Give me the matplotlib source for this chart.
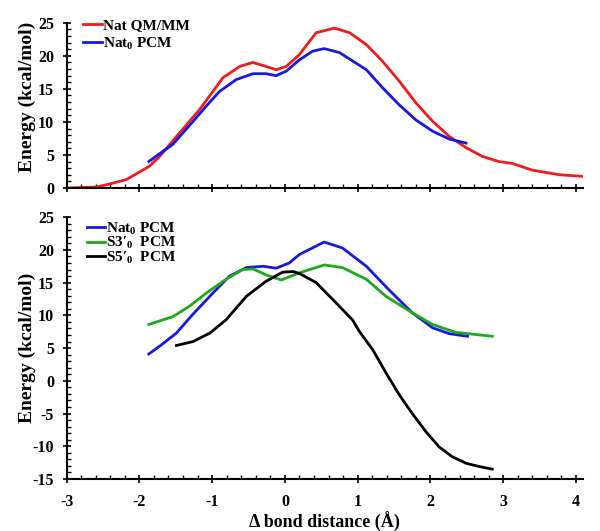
import matplotlib
matplotlib.use("Agg")
import matplotlib.pyplot as plt
from matplotlib.ticker import MultipleLocator

plt.rcParams['font.family'] = ['Liberation Serif', 'DejaVu Serif']
plt.rcParams['font.weight'] = 'bold'
plt.rcParams['axes.unicode_minus'] = False
plt.rcParams['mathtext.fontset'] = 'custom'
plt.rcParams['mathtext.rm'] = 'Liberation Serif:bold'
plt.rcParams['mathtext.it'] = 'Liberation Serif:bold'
plt.rcParams['mathtext.bf'] = 'Liberation Serif:bold'

# ---- data: top panel ----
nat_qmmm_x = [-3.0, -2.59, -2.41, -2.18, -1.86, -1.72, -1.45, -1.17, -0.85, -0.62, -0.44,
              -0.26, -0.12, 0.02, 0.2, 0.43, 0.68, 0.89, 1.12, 1.34, 1.57, 1.8, 2.03,
              2.26, 2.49, 2.71, 2.94, 3.13, 3.4, 3.77, 4.09]
nat_qmmm_y = [0.0, 0.15, 0.6, 1.26, 3.3, 4.8, 8.3, 11.9, 16.7, 18.4, 19.0,
              18.4, 17.9, 18.4, 20.2, 23.5, 24.2, 23.5, 21.7, 19.2, 16.2, 12.9, 10.1,
              7.8, 6.1, 4.8, 4.0, 3.7, 2.7, 2.0, 1.76]

nat0_pcm_x = [-1.87, -1.72, -1.54, -1.26, -1.08, -0.9, -0.67, -0.44, -0.26, -0.12, 0.02,
              0.2, 0.38, 0.54, 0.75, 1.12, 1.34, 1.57, 1.8, 2.03, 2.26, 2.49]
nat0_pcm_y = [4.0, 5.2, 6.6, 10.1, 12.4, 14.6, 16.4, 17.3, 17.3, 17.0, 17.7,
              19.4, 20.7, 21.1, 20.5, 17.9, 15.2, 12.6, 10.3, 8.6, 7.4, 6.8]

# ---- data: bottom panel ----
nat0_b_x = [-1.87, -1.72, -1.49, -1.27, -0.99, -0.76, -0.53, -0.3, -0.12, 0.06, 0.2,
            0.54, 0.79, 1.12, 1.43, 1.75, 2.03, 2.26, 2.51]
nat0_b_y = [4.1, 5.3, 7.3, 10.1, 13.4, 16.0, 17.3, 17.5, 17.2, 18.0, 19.3,
            21.2, 20.3, 17.5, 13.9, 10.4, 8.1, 7.2, 6.8]

s3_x = [-1.87, -1.54, -1.31, -1.08, -0.81, -0.58, -0.44, -0.26, -0.05, 0.11, 0.2,
        0.54, 0.79, 1.12, 1.39, 1.75, 2.03, 2.35, 2.85]
s3_y = [8.6, 9.8, 11.4, 13.4, 15.5, 17.0, 17.1, 16.2, 15.4, 16.1, 16.5,
        17.7, 17.3, 15.5, 12.9, 10.4, 8.6, 7.4, 6.8]

s5_x = [-1.49, -1.26, -1.03, -0.81, -0.53, -0.26, -0.03, 0.11, 0.2, 0.43, 0.66,
        0.93, 1.02, 1.21, 1.39, 1.57, 1.75, 1.94, 2.12, 2.3, 2.49, 2.67, 2.85]
s5_y = [5.4, 6.0, 7.3, 9.3, 12.9, 15.2, 16.6, 16.7, 16.4, 15.0, 12.4,
        9.3, 7.6, 4.7, 1.2, -2.1, -5.0, -7.8, -10.1, -11.6, -12.6, -13.1, -13.5]

RED = '#ee1c1c'
BLUE = '#1818e0'
GREEN = '#1ea81e'
BLACK = '#000000'

fig = plt.figure(figsize=(6.0, 5.31), dpi=100)
ax1 = fig.add_axes([0.111, 0.646, 0.861, 0.311])
ax2 = fig.add_axes([0.111, 0.098, 0.861, 0.493])

lw = 2.0
ax1.plot(nat_qmmm_x, nat_qmmm_y, color=RED, lw=lw, label='Nat QM/MM')
ax1.plot(nat0_pcm_x, nat0_pcm_y, color=BLUE, lw=lw, label=r'Nat$_0$ PCM')

ax2.plot(nat0_b_x, nat0_b_y, color=BLUE, lw=lw, label=r'Nat$_0$ PCM')
ax2.plot(s3_x, s3_y, color=GREEN, lw=lw, label="S3\u2032$_0$  PCM")
ax2.plot(s5_x, s5_y, color=BLACK, lw=lw, label="S5\u2032$_0$  PCM")

for ax in (ax1, ax2):
    ax.set_xlim(-3, 4.1)
    ax.xaxis.set_major_locator(MultipleLocator(1))
    ax.xaxis.set_minor_locator(MultipleLocator(0.2))
    ax.yaxis.set_major_locator(MultipleLocator(5))
    ax.yaxis.set_minor_locator(MultipleLocator(1))
    for s in ('top', 'right'):
        ax.spines[s].set_visible(False)
    for s in ('left', 'bottom'):
        ax.spines[s].set_linewidth(1.5)
    ax.tick_params(which='major', direction='inout', length=6, width=1.2,
                   labelsize=11.5, pad=6)
    ax.tick_params(which='minor', direction='in', length=3, width=1.0)
    ax.tick_params(axis='x', which='major', pad=8)
    for lab in ax.get_xticklabels() + ax.get_yticklabels():
        lab.set_fontweight('bold')

leg_prop = {'family': ['Liberation Serif', 'DejaVu Serif'], 'weight': 'bold', 'size': 11}
ax1.legend(loc='upper left', bbox_to_anchor=(0.006, 1.107), frameon=False,
           handlelength=1.2, handletextpad=0.1, labelspacing=0.2, prop=leg_prop)
ax2.legend(loc='upper left', bbox_to_anchor=(0.012, 1.04), frameon=False,
           handlelength=1.2, handletextpad=0.1, labelspacing=-0.1, prop=leg_prop)

ax1.set_ylim(0, 25)
ax2.set_ylim(-15, 25)
ax1.tick_params(axis='x', labelbottom=False)

ax1.set_ylabel('Energy (kcal/mol)', fontsize=14, fontweight='bold')
ax2.set_ylabel('Energy (kcal/mol)', fontsize=14, fontweight='bold')
ax1.yaxis.set_label_coords(-0.06, 0.55)
ax2.yaxis.set_label_coords(-0.06, 0.5)
ax2.set_xlabel('Δ bond distance (Å)', fontsize=13, fontweight='bold', labelpad=1)

fig.savefig('out.png', dpi=100)
